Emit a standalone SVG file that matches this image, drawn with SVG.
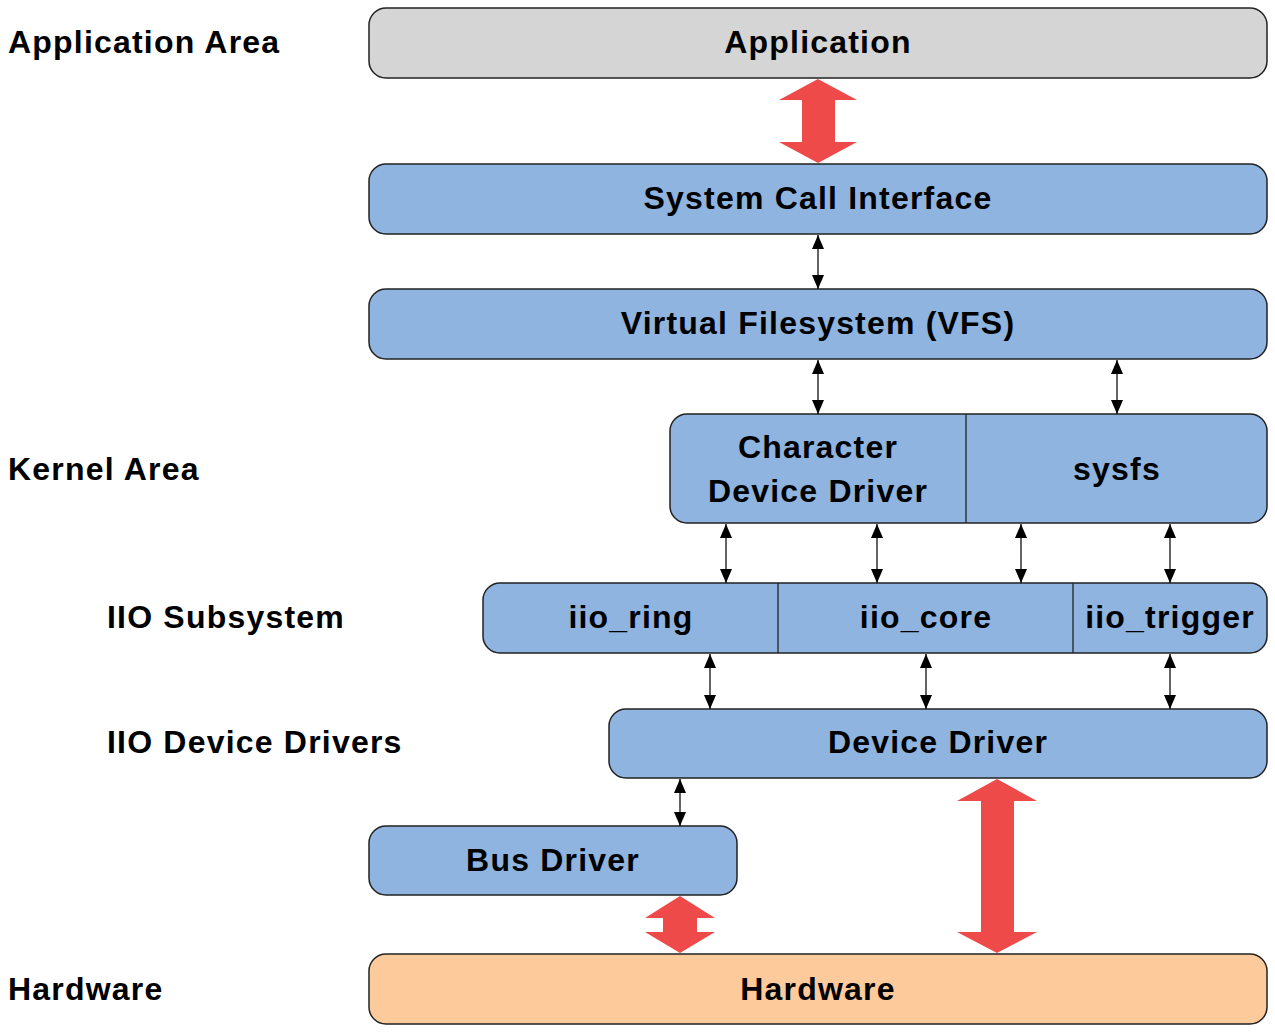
<svg xmlns="http://www.w3.org/2000/svg" width="1275" height="1033" viewBox="0 0 1275 1033">
<style>
.box{stroke:#222;stroke-width:1.5}
.blue{fill:#8fb4e0}
.gray{fill:#d4d5d4}
.orange{fill:#fdca9c}
.div{stroke:#222;stroke-width:1.3}
.t{font-family:"Liberation Sans",Arial,sans-serif;font-weight:bold;font-size:32px;fill:#000;letter-spacing:1.2px}
.c{text-anchor:middle}
.conn{stroke:#111;stroke-width:1.3;fill:none}
.red{fill:#ef4a4a}
</style>
<defs>
<marker id="ah" markerUnits="userSpaceOnUse" markerWidth="14" markerHeight="12" viewBox="0 0 14 12" refX="14" refY="6" orient="auto-start-reverse">
<path d="M0,0 L14,6 L0,12 Z" fill="#000"/>
</marker>
</defs>
<g id="labels">
<text class="t" x="8" y="53">Application Area</text>
<text class="t" x="8" y="480">Kernel Area</text>
<text class="t" x="107" y="628">IIO Subsystem</text>
<text class="t" x="107" y="753">IIO Device Drivers</text>
<text class="t" x="8" y="1000">Hardware</text>
</g>
<g id="application">
<rect class="box gray" x="369" y="8" width="898" height="70" rx="17"/>
<text class="t c" x="818" y="53">Application</text>
</g>
<g id="syscall">
<rect class="box blue" x="369" y="164" width="898" height="70" rx="17"/>
<text class="t c" x="818" y="209">System Call Interface</text>
</g>
<g id="vfs">
<rect class="box blue" x="369" y="289" width="898" height="70" rx="17"/>
<text class="t c" x="818" y="334">Virtual Filesystem (VFS)</text>
</g>
<g id="chardev-sysfs">
<rect class="box blue" x="670" y="414" width="597" height="109" rx="17"/>
<line class="div" x1="966" y1="414" x2="966" y2="523"/>
<text class="t c" x="818" y="458">Character</text>
<text class="t c" x="818" y="502">Device Driver</text>
<text class="t c" x="1117" y="480">sysfs</text>
</g>
<g id="iio">
<rect class="box blue" x="483" y="583" width="784" height="70" rx="17"/>
<line class="div" x1="778" y1="583" x2="778" y2="653"/>
<line class="div" x1="1073" y1="583" x2="1073" y2="653"/>
<text class="t c" x="631" y="628">iio_ring</text>
<text class="t c" x="926" y="628">iio_core</text>
<text class="t c" x="1170" y="628">iio_trigger</text>
</g>
<g id="devicedriver">
<rect class="box blue" x="609" y="709" width="658" height="69" rx="17"/>
<text class="t c" x="938" y="753">Device Driver</text>
</g>
<g id="busdriver">
<rect class="box blue" x="369" y="826" width="368" height="69" rx="17"/>
<text class="t c" x="553" y="871">Bus Driver</text>
</g>
<g id="hardware">
<rect class="box orange" x="369" y="954" width="898" height="70" rx="17"/>
<text class="t c" x="818" y="1000">Hardware</text>
</g>
<g id="connectors">
<path class="red" d="M818,79 L857,100 L835,100 L835,142 L857,142 L818,163 L779,142 L802,142 L802,100 L779,100 Z"/>
<path class="red" d="M997,779 L1037,801 L1014,801 L1014,932 L1037,932 L997,953 L957,932 L981,932 L981,801 L957,801 Z"/>
<path class="red" d="M680,896 L715,918 L697,918 L697,932 L715,932 L680,953 L645,932 L663,932 L663,918 L645,918 Z"/>
<line class="conn" x1="818" y1="235" x2="818" y2="289" marker-start="url(#ah)" marker-end="url(#ah)"/>
<line class="conn" x1="818" y1="360" x2="818" y2="414" marker-start="url(#ah)" marker-end="url(#ah)"/>
<line class="conn" x1="1117" y1="360" x2="1117" y2="414" marker-start="url(#ah)" marker-end="url(#ah)"/>
<line class="conn" x1="726" y1="524" x2="726" y2="583" marker-start="url(#ah)" marker-end="url(#ah)"/>
<line class="conn" x1="877" y1="524" x2="877" y2="583" marker-start="url(#ah)" marker-end="url(#ah)"/>
<line class="conn" x1="1021" y1="524" x2="1021" y2="583" marker-start="url(#ah)" marker-end="url(#ah)"/>
<line class="conn" x1="1170" y1="524" x2="1170" y2="583" marker-start="url(#ah)" marker-end="url(#ah)"/>
<line class="conn" x1="710" y1="654" x2="710" y2="709" marker-start="url(#ah)" marker-end="url(#ah)"/>
<line class="conn" x1="926" y1="654" x2="926" y2="709" marker-start="url(#ah)" marker-end="url(#ah)"/>
<line class="conn" x1="1170" y1="654" x2="1170" y2="709" marker-start="url(#ah)" marker-end="url(#ah)"/>
<line class="conn" x1="680" y1="779" x2="680" y2="826" marker-start="url(#ah)" marker-end="url(#ah)"/>
</g>
</svg>
